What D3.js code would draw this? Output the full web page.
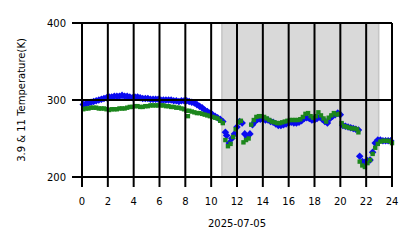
<!DOCTYPE html>
<html>
<head>
<meta charset="utf-8">
<script src="https://cdn.jsdelivr.net/npm/d3@7"></script>
<style>
  body { margin: 0; background: #fff; }
  text { font-family: "DejaVu Sans", sans-serif; }
</style>
</head>
<body>
<svg id="chart" width="418" height="248"></svg>
<script>
// hours / values
var blueHours = [0.1,0.3,0.5,0.7,0.9,1.1,1.3,1.5,1.7,1.9,2.1,2.3,2.5,2.7,2.9,3.1,3.3,3.5,3.7,3.9,
  4.1,4.3,4.5,4.7,4.9,5.1,5.3,5.5,5.7,5.9,6.1,6.3,6.5,6.7,6.9,7.1,7.3,7.5,7.7,7.9,
  8.1,8.3,8.5,8.7,8.9,9.1,9.3,9.5,9.7,9.9,10.1,10.3,10.5,10.7,
  10.9,11.1,11.2,11.4,11.6,11.8,12.0,12.2,12.4,12.6,12.8,13.0,13.2,13.4,13.6,13.8,
  14.0,14.2,14.4,14.6,14.8,15.0,15.2,15.4,15.6,15.8,16.0,16.2,16.4,16.6,16.8,
  17.0,17.2,17.4,17.6,17.8,18.0,18.2,18.4,18.6,18.8,19.0,19.2,19.4,19.6,19.8,
  20.0,20.2,20.4,20.6,20.8,21.0,21.2,21.4,
  21.5,21.7,21.9,22.1,22.3,22.5,22.7,22.9,23.1,23.3,23.5,23.7,23.9];
var blueTemps = [294,295,296,297,298,299,300,301,302,303,304,304,305,305,305,306,305,305,304,303,
  304,304,303,302,302,302,301,301,301,301,300,300,300,300,300,299,299,298,299,299,
  299,298,297,296,294,292,290,287,285,283,281,279,277,275,
  272,258,254,244,250,256,265,272,270,256,252,256,268,272,275,275,
  275,274,274,272,271,269,267,267,268,269,270,271,270,270,271,
  273,276,277,276,274,274,276,278,275,272,270,276,279,281,283,
  281,267,266,265,264,263,262,261,
  227,220,219,221,222,232,244,248,248,247,247,247,247];

var greenHours = [0.1,0.3,0.5,0.7,0.9,1.1,1.3,1.5,1.7,1.9,2.1,2.3,2.5,2.7,2.9,3.1,3.3,3.5,3.7,3.9,
  4.1,4.3,4.5,4.7,4.9,5.1,5.3,5.5,5.7,5.9,6.1,6.3,6.5,6.7,6.9,7.1,7.3,7.5,7.7,7.9,
  8.1,8.2,8.3,8.5,8.7,8.9,9.1,9.3,9.5,9.7,9.9,10.1,10.3,10.5,10.7,
  10.9,11.1,11.3,11.5,11.7,11.9,12.1,12.3,12.5,12.7,12.9,13.1,13.3,13.5,13.7,13.9,
  14.1,14.3,14.5,14.7,14.9,15.1,15.3,15.5,15.7,15.9,16.1,16.3,16.5,16.7,16.9,
  17.1,17.3,17.5,17.7,17.9,18.1,18.3,18.5,18.7,18.9,19.1,19.3,19.5,19.7,19.9,
  20.1,20.3,20.5,20.7,20.9,21.1,21.3,21.4,
  21.5,21.7,21.9,22.1,22.3,22.5,22.7,22.9,23.1,23.3,23.5,23.7,23.9,24.0];
var greenTemps = [288,289,289,290,290,290,289,289,289,288,287,288,288,288,289,289,289,290,291,291,
  292,292,291,291,292,292,293,293,293,293,293,293,292,292,291,291,290,290,289,288,
  286,279,286,285,284,283,283,282,281,280,279,278,277,276,273,
  270,248,240,243,252,262,271,273,245,248,250,268,274,278,279,279,
  278,276,274,272,271,270,270,271,272,273,274,274,274,274,275,
  278,282,283,279,277,279,284,280,276,272,277,280,283,281,282,
  270,266,265,264,263,263,262,258,
  220,215,213,218,222,230,238,243,246,247,247,247,246,244];

var xTicks = [0,2,4,6,8,10,12,14,16,18,20,22,24];
var yTicks = [200,300,400];
var nightSpan = [10.83, 22.97];
var dateLabel = "2025-07-05";
var yLabel = "3.9 & 11 Temperature(K)";

var svg = d3.select("#chart");
var x = d3.scaleLinear().domain([0, 24]).range([82, 392]);
var y = d3.scaleLinear().domain([200, 400]).range([177, 23]);

// shaded span
svg.append("rect")
  .attr("x", x(nightSpan[0]))
  .attr("y", y(400))
  .attr("width", x(nightSpan[1]) - x(nightSpan[0]))
  .attr("height", y(200) - y(400))
  .attr("fill", "#d9d9d9")
  .attr("stroke", "#c6c6c6")
  .attr("stroke-width", 1.5);

// blue diamonds first, green squares on top
var blue = blueHours.map(function (h, i) { return [h, blueTemps[i]]; });
var green = greenHours.map(function (h, i) { return [h, greenTemps[i]]; });

svg.append("g").selectAll("path")
  .data(blue)
  .enter().append("path")
  .attr("d", d3.symbol().type(d3.symbolDiamond2).size(36))
  .attr("transform", function (d) { return "translate(" + x(d[0]) + "," + y(d[1]) + ")"; })
  .attr("fill", "#0a0af0");

svg.append("g").selectAll("rect")
  .data(green)
  .enter().append("rect")
  .attr("x", function (d) { return x(d[0]) - 2.2; })
  .attr("y", function (d) { return y(d[1]) - 2.2; })
  .attr("width", 4.4)
  .attr("height", 4.4)
  .attr("fill", "#1c861c");

// grid + long ticks drawn over the data
var grid = svg.append("g").attr("stroke", "#000").attr("stroke-width", 2);
xTicks.forEach(function (t) {
  grid.append("line")
    .attr("x1", x(t)).attr("x2", x(t))
    .attr("y1", y(400)).attr("y2", y(200) + 10);
});
yTicks.forEach(function (t) {
  grid.append("line")
    .attr("x1", x(0) - 10).attr("x2", x(24))
    .attr("y1", y(t)).attr("y2", y(t));
});

svg.append("g").selectAll("text")
  .data(xTicks)
  .enter().append("text")
  .attr("x", function (d) { return x(d); })
  .attr("y", 205)
  .attr("text-anchor", "middle")
  .attr("font-size", 10)
  .text(function (d) { return d; });

svg.append("g").selectAll("text")
  .data(yTicks)
  .enter().append("text")
  .attr("x", 66)
  .attr("y", function (d) { return y(d) + 3.5; })
  .attr("text-anchor", "end")
  .attr("font-size", 10)
  .text(function (d) { return d; });

svg.append("text")
  .attr("x", x(12))
  .attr("y", 227)
  .attr("text-anchor", "middle")
  .attr("font-size", 10)
  .text(dateLabel);

svg.append("text")
  .attr("transform", "translate(25,100) rotate(-90)")
  .attr("text-anchor", "middle")
  .attr("font-size", 10)
  .text(yLabel);
</script>
</body>
</html>
